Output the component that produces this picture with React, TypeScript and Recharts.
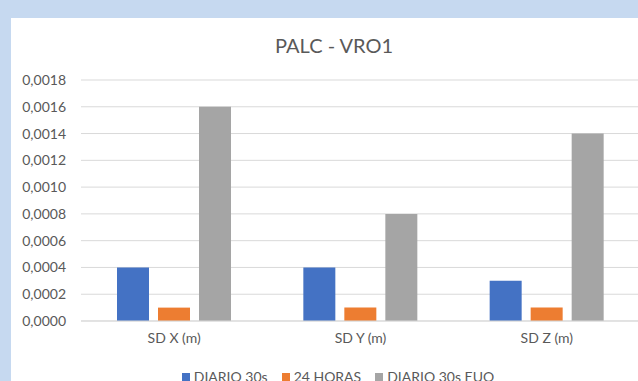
import { BarChart, Bar, XAxis, YAxis, CartesianGrid } from "recharts";

const categories = ["SD X (m)", "SD Y (m)", "SD Z (m)"];
const diario30s = [0.0004, 0.0004, 0.0003];
const horas24 = [0.0001, 0.0001, 0.0001];
const diarioEuo = [0.0016, 0.0008, 0.0014];
const yTicks = [0, 0.0002, 0.0004, 0.0006, 0.0008, 0.001, 0.0012, 0.0014, 0.0016, 0.0018];

const SERIES = [
  { key: "d30", name: "DIARIO 30s", color: "#4472C4" },
  { key: "h24", name: "24 HORAS", color: "#ED7D31" },
  { key: "euo", name: "DIARIO 30s EUO", color: "#A5A5A5" },
];

const FONT = "Lato, 'Open Sans', sans-serif";
const TEXT = "#595959";
const TICK = { fontSize: 14, fill: TEXT, fontFamily: FONT };

const rows = categories.map((c, i) => ({ name: c, d30: diario30s[i], h24: horas24[i], euo: diarioEuo[i] }));

const fmt = (v: number) => v.toFixed(4).replace(".", ",");

export default function App() {
  return (
    <div style={{ position: "absolute", left: 0, top: 0, width: 638, height: 381, background: "#C6D9F0", overflow: "hidden", fontFamily: FONT }}>
      <div style={{ position: "absolute", left: 11, top: 18, width: 640, height: 380, background: "#fff" }}>
        <BarChart width={629} height={363} data={rows} barGap={9} margin={{ top: 62, right: 0, left: 0, bottom: 30 }}>
          <CartesianGrid vertical={false} stroke="#D9D9D9" />
          <XAxis dataKey="name" height={30} tick={TICK} tickLine={false} axisLine={{ stroke: "#D9D9D9" }} tickMargin={6} />
          <YAxis width={70} domain={[0, 0.0018]} ticks={yTicks} tickFormatter={fmt} tick={TICK} tickLine={false} axisLine={false} tickMargin={9} />
          {SERIES.map((s) => (
            <Bar key={s.key} dataKey={s.key} name={s.name} fill={s.color} barSize={32} isAnimationActive={false} />
          ))}
        </BarChart>
      </div>
      <div style={{ position: "absolute", left: 0, width: 668, top: 33, textAlign: "center", fontSize: 20, color: TEXT }}>PALC - VRO1</div>
      <div style={{ position: "absolute", left: 0, width: 676, top: 368, display: "flex", justifyContent: "center", gap: 14, fontSize: 14, color: TEXT }}>
        {SERIES.map((s) => (
          <span key={s.key} style={{ display: "flex", alignItems: "center", gap: 4 }}>
            <span style={{ width: 8, height: 8, background: s.color, display: "inline-block" }} />
            {s.name}
          </span>
        ))}
      </div>
    </div>
  );
}
